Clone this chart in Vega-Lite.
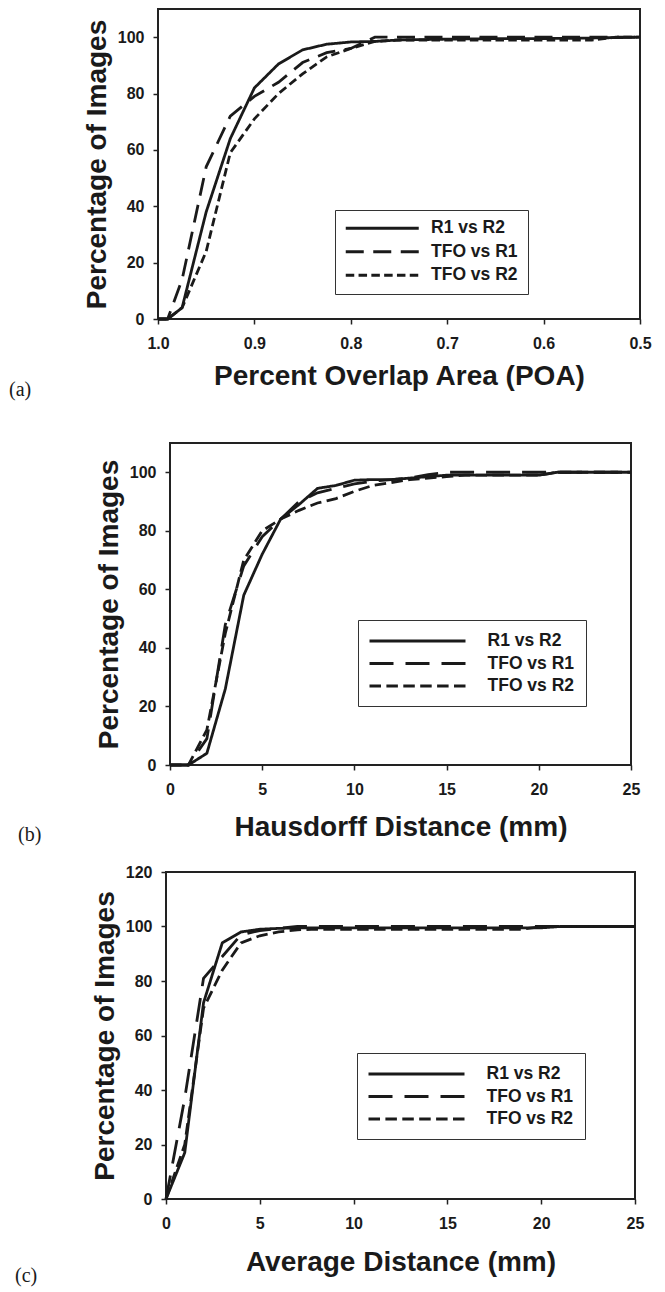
{
  "$schema": "https://vega.github.io/schema/vega-lite/v6.json",
  "background": "white",
  "padding": {"left": 0, "top": 8, "right": 0, "bottom": 0},
  "autosize": {"type": "pad"},
  "spacing": 17,
  "resolve": {"scale": {"strokeDash": "independent"}, "legend": {"strokeDash": "independent"}},
  "config": {
    "view": {"stroke": null},
    "font": "Liberation Sans",
    "axis": {
      "domain": false,
      "grid": false,
      "ticks": true,
      "tickSize": 5,
      "tickWidth": 1.5,
      "tickColor": "#222",
      "labelFont": "Liberation Sans",
      "labelFontWeight": "bold",
      "labelFontSize": 16,
      "labelColor": "#1a1a1a",
      "labelFlush": false,
      "labelOverlap": false,
      "titleFont": "Liberation Sans",
      "titleFontWeight": "bold",
      "titleFontSize": 28,
      "titleColor": "#1a1a1a"
    },
    "axisX": {"labelPadding": 11},
    "axisY": {"labelPadding": 9, "titlePadding": 6},
    "legend": {
      "orient": "none",
      "title": null,
      "symbolType": "M-6,0L6,0",
      "symbolStrokeWidth": 3,
      "symbolStrokeColor": "#1a1a1a",
      "labelFont": "Liberation Sans",
      "labelFontWeight": "bold",
      "labelFontSize": 17.5,
      "labelColor": "#1a1a1a",
      "strokeColor": "#333",
      "fillColor": "white",
      "rowPadding": 4.5
    }
  },
  "datasets": {
    "poa": [
      {"series": "R1 vs R2", "x": 1.0, "y": 0},
      {"series": "R1 vs R2", "x": 0.99, "y": 0},
      {"series": "R1 vs R2", "x": 0.975, "y": 4},
      {"series": "R1 vs R2", "x": 0.95, "y": 38},
      {"series": "R1 vs R2", "x": 0.925, "y": 64},
      {"series": "R1 vs R2", "x": 0.9, "y": 82},
      {"series": "R1 vs R2", "x": 0.875, "y": 90.5},
      {"series": "R1 vs R2", "x": 0.85, "y": 95.5},
      {"series": "R1 vs R2", "x": 0.825, "y": 97.5},
      {"series": "R1 vs R2", "x": 0.8, "y": 98.3},
      {"series": "R1 vs R2", "x": 0.775, "y": 98.5},
      {"series": "R1 vs R2", "x": 0.75, "y": 99},
      {"series": "R1 vs R2", "x": 0.7, "y": 99.3},
      {"series": "R1 vs R2", "x": 0.65, "y": 99.5},
      {"series": "R1 vs R2", "x": 0.6, "y": 99.5},
      {"series": "R1 vs R2", "x": 0.55, "y": 99.7},
      {"series": "R1 vs R2", "x": 0.5, "y": 100},
      {"series": "TFO vs R1", "x": 1.0, "y": 0},
      {"series": "TFO vs R1", "x": 0.99, "y": 0},
      {"series": "TFO vs R1", "x": 0.975, "y": 14},
      {"series": "TFO vs R1", "x": 0.95, "y": 54},
      {"series": "TFO vs R1", "x": 0.925, "y": 72},
      {"series": "TFO vs R1", "x": 0.9, "y": 79},
      {"series": "TFO vs R1", "x": 0.875, "y": 84},
      {"series": "TFO vs R1", "x": 0.85, "y": 91},
      {"series": "TFO vs R1", "x": 0.825, "y": 94.5},
      {"series": "TFO vs R1", "x": 0.8, "y": 96},
      {"series": "TFO vs R1", "x": 0.775, "y": 100},
      {"series": "TFO vs R1", "x": 0.75, "y": 100},
      {"series": "TFO vs R1", "x": 0.7, "y": 100},
      {"series": "TFO vs R1", "x": 0.65, "y": 100},
      {"series": "TFO vs R1", "x": 0.6, "y": 100},
      {"series": "TFO vs R1", "x": 0.55, "y": 100},
      {"series": "TFO vs R1", "x": 0.5, "y": 100},
      {"series": "TFO vs R2", "x": 1.0, "y": 0},
      {"series": "TFO vs R2", "x": 0.99, "y": 0},
      {"series": "TFO vs R2", "x": 0.975, "y": 4},
      {"series": "TFO vs R2", "x": 0.95, "y": 24},
      {"series": "TFO vs R2", "x": 0.925, "y": 59},
      {"series": "TFO vs R2", "x": 0.9, "y": 71},
      {"series": "TFO vs R2", "x": 0.875, "y": 80},
      {"series": "TFO vs R2", "x": 0.85, "y": 87},
      {"series": "TFO vs R2", "x": 0.825, "y": 93},
      {"series": "TFO vs R2", "x": 0.8, "y": 96},
      {"series": "TFO vs R2", "x": 0.775, "y": 98.5},
      {"series": "TFO vs R2", "x": 0.75, "y": 99},
      {"series": "TFO vs R2", "x": 0.7, "y": 99},
      {"series": "TFO vs R2", "x": 0.65, "y": 99},
      {"series": "TFO vs R2", "x": 0.6, "y": 99},
      {"series": "TFO vs R2", "x": 0.55, "y": 99},
      {"series": "TFO vs R2", "x": 0.525, "y": 100},
      {"series": "TFO vs R2", "x": 0.5, "y": 100}
    ],
    "hd": [
      {"series": "R1 vs R2", "x": 0, "y": 0},
      {"series": "R1 vs R2", "x": 1, "y": 0},
      {"series": "R1 vs R2", "x": 2, "y": 4},
      {"series": "R1 vs R2", "x": 3, "y": 26},
      {"series": "R1 vs R2", "x": 4, "y": 58},
      {"series": "R1 vs R2", "x": 5, "y": 72},
      {"series": "R1 vs R2", "x": 6, "y": 84},
      {"series": "R1 vs R2", "x": 7, "y": 89},
      {"series": "R1 vs R2", "x": 8, "y": 94.5},
      {"series": "R1 vs R2", "x": 9, "y": 95.5},
      {"series": "R1 vs R2", "x": 10, "y": 97.3},
      {"series": "R1 vs R2", "x": 11, "y": 97.5},
      {"series": "R1 vs R2", "x": 12, "y": 97.5},
      {"series": "R1 vs R2", "x": 13, "y": 98},
      {"series": "R1 vs R2", "x": 14, "y": 98.5},
      {"series": "R1 vs R2", "x": 15, "y": 99},
      {"series": "R1 vs R2", "x": 17, "y": 99},
      {"series": "R1 vs R2", "x": 20, "y": 99},
      {"series": "R1 vs R2", "x": 21, "y": 100},
      {"series": "R1 vs R2", "x": 25, "y": 100},
      {"series": "TFO vs R1", "x": 0, "y": 0},
      {"series": "TFO vs R1", "x": 1, "y": 0},
      {"series": "TFO vs R1", "x": 2, "y": 9},
      {"series": "TFO vs R1", "x": 3, "y": 48},
      {"series": "TFO vs R1", "x": 4, "y": 68},
      {"series": "TFO vs R1", "x": 5, "y": 78},
      {"series": "TFO vs R1", "x": 6, "y": 84},
      {"series": "TFO vs R1", "x": 7, "y": 90},
      {"series": "TFO vs R1", "x": 8, "y": 93},
      {"series": "TFO vs R1", "x": 9, "y": 94.5},
      {"series": "TFO vs R1", "x": 10, "y": 96},
      {"series": "TFO vs R1", "x": 11, "y": 97},
      {"series": "TFO vs R1", "x": 12, "y": 97.5},
      {"series": "TFO vs R1", "x": 13, "y": 98},
      {"series": "TFO vs R1", "x": 14, "y": 99.2},
      {"series": "TFO vs R1", "x": 15, "y": 100},
      {"series": "TFO vs R1", "x": 20, "y": 100},
      {"series": "TFO vs R1", "x": 25, "y": 100},
      {"series": "TFO vs R2", "x": 0, "y": 0},
      {"series": "TFO vs R2", "x": 1, "y": 0},
      {"series": "TFO vs R2", "x": 2, "y": 12},
      {"series": "TFO vs R2", "x": 3, "y": 45},
      {"series": "TFO vs R2", "x": 4, "y": 70},
      {"series": "TFO vs R2", "x": 5, "y": 80},
      {"series": "TFO vs R2", "x": 6, "y": 84},
      {"series": "TFO vs R2", "x": 7, "y": 87},
      {"series": "TFO vs R2", "x": 8, "y": 89.5},
      {"series": "TFO vs R2", "x": 9, "y": 91},
      {"series": "TFO vs R2", "x": 10, "y": 93.5},
      {"series": "TFO vs R2", "x": 11, "y": 95.5},
      {"series": "TFO vs R2", "x": 12, "y": 96.5},
      {"series": "TFO vs R2", "x": 13, "y": 97.5},
      {"series": "TFO vs R2", "x": 14, "y": 98},
      {"series": "TFO vs R2", "x": 15, "y": 98.5},
      {"series": "TFO vs R2", "x": 16, "y": 99},
      {"series": "TFO vs R2", "x": 20, "y": 99},
      {"series": "TFO vs R2", "x": 21, "y": 100},
      {"series": "TFO vs R2", "x": 25, "y": 100}
    ],
    "ad": [
      {"series": "R1 vs R2", "x": 0, "y": 0},
      {"series": "R1 vs R2", "x": 1, "y": 17},
      {"series": "R1 vs R2", "x": 2, "y": 72},
      {"series": "R1 vs R2", "x": 3, "y": 94},
      {"series": "R1 vs R2", "x": 4, "y": 98},
      {"series": "R1 vs R2", "x": 5, "y": 99},
      {"series": "R1 vs R2", "x": 6, "y": 99.3},
      {"series": "R1 vs R2", "x": 7, "y": 99.5},
      {"series": "R1 vs R2", "x": 20, "y": 99.5},
      {"series": "R1 vs R2", "x": 21, "y": 100},
      {"series": "R1 vs R2", "x": 25, "y": 100},
      {"series": "TFO vs R1", "x": 0, "y": 0},
      {"series": "TFO vs R1", "x": 1, "y": 37},
      {"series": "TFO vs R1", "x": 2, "y": 81},
      {"series": "TFO vs R1", "x": 3, "y": 89},
      {"series": "TFO vs R1", "x": 4, "y": 97},
      {"series": "TFO vs R1", "x": 5, "y": 98.5},
      {"series": "TFO vs R1", "x": 6, "y": 99.3},
      {"series": "TFO vs R1", "x": 7, "y": 100},
      {"series": "TFO vs R1", "x": 25, "y": 100},
      {"series": "TFO vs R2", "x": 0, "y": 0},
      {"series": "TFO vs R2", "x": 1, "y": 20},
      {"series": "TFO vs R2", "x": 2, "y": 70},
      {"series": "TFO vs R2", "x": 3, "y": 84},
      {"series": "TFO vs R2", "x": 4, "y": 94},
      {"series": "TFO vs R2", "x": 5, "y": 96.6},
      {"series": "TFO vs R2", "x": 6, "y": 98},
      {"series": "TFO vs R2", "x": 7, "y": 98.8},
      {"series": "TFO vs R2", "x": 8, "y": 99},
      {"series": "TFO vs R2", "x": 19, "y": 99},
      {"series": "TFO vs R2", "x": 20, "y": 100},
      {"series": "TFO vs R2", "x": 25, "y": 100}
    ]
  },
  "vconcat": [
    {
      "spacing": 0,
      "resolve": {"scale": {"strokeDash": "independent"}, "legend": {"strokeDash": "independent"}},
      "hconcat": [
        {"width": 8, "height": 416, "data": {"values": []}, "mark": {"type": "point", "opacity": 0}, "encoding": {}},
        {
          "width": 482, "height": 310,
          "data": {"name": "poa"},
          "view": {"stroke": "#222", "strokeWidth": 2},
          "title": {"text": "(a)", "orient": "bottom", "anchor": "start", "frame": "group", "dx": -149, "offset": 0, "baseline": "middle", "font": "Liberation Serif", "fontSize": 20, "fontWeight": "normal", "color": "#1a1a1a"},
          "mark": {"type": "line", "strokeWidth": 2.8, "color": "#1a1a1a"},
          "encoding": {
            "x": {"field": "x", "type": "quantitative", "scale": {"domain": [0.5, 1.0], "reverse": true, "nice": false, "zero": false}, "axis": {"values": [1.0, 0.9, 0.8, 0.7, 0.6, 0.5], "format": ".1f", "title": "Percent Overlap Area (POA)", "titlePadding": 11}},
            "y": {"field": "y", "type": "quantitative", "scale": {"domain": [0, 110], "nice": false}, "axis": {"values": [0, 20, 40, 60, 80, 100], "title": "Percentage of Images"}},
            "strokeDash": {"field": "series", "type": "nominal", "scale": {"domain": ["R1 vs R2", "TFO vs R1", "TFO vs R2"], "range": [[1, 0], [18, 9.5], [8.5, 4.3]]}, "legend": {"legendX": 177, "legendY": 201, "symbolSize": 148, "symbolOffset": 29, "labelOffset": 40, "padding": 9.5}}
          }
        }
      ]
    },
    {
      "spacing": 0,
      "resolve": {"scale": {"strokeDash": "independent"}, "legend": {"strokeDash": "independent"}},
      "hconcat": [
        {"width": 17, "height": 1, "data": {"values": []}, "mark": {"type": "point", "opacity": 0}, "encoding": {}},
        {
          "width": 461, "height": 322,
          "data": {"name": "hd"},
          "view": {"stroke": "#222", "strokeWidth": 2},
          "title": {"text": "(b)", "orient": "bottom", "anchor": "start", "frame": "group", "dx": -152, "offset": 0, "baseline": "alphabetic", "font": "Liberation Serif", "fontSize": 20, "fontWeight": "normal", "color": "#1a1a1a"},
          "mark": {"type": "line", "strokeWidth": 2.8, "color": "#1a1a1a"},
          "encoding": {
            "x": {"field": "x", "type": "quantitative", "scale": {"domain": [0, 25], "nice": false}, "axis": {"values": [0, 5, 10, 15, 20, 25], "title": "Hausdorff Distance (mm)", "titlePadding": 16}},
            "y": {"field": "y", "type": "quantitative", "scale": {"domain": [0, 110], "nice": false}, "axis": {"values": [0, 20, 40, 60, 80, 100], "title": "Percentage of Images"}},
            "strokeDash": {"field": "series", "type": "nominal", "scale": {"domain": ["R1 vs R2", "TFO vs R1", "TFO vs R2"], "range": [[1, 0], [24, 12], [11.5, 5.4]]}, "legend": {"legendX": 188, "legendY": 177, "symbolSize": 256, "symbolOffset": 38.5, "labelOffset": 60.5, "padding": 11.5}}
          }
        }
      ]
    },
    {
      "spacing": 0,
      "resolve": {"scale": {"strokeDash": "independent"}, "legend": {"strokeDash": "independent"}},
      "hconcat": [
        {"width": 14, "height": 1, "data": {"values": []}, "mark": {"type": "point", "opacity": 0}, "encoding": {}},
        {
          "width": 469, "height": 327,
          "data": {"name": "ad"},
          "view": {"stroke": "#222", "strokeWidth": 2},
          "title": {"text": "(c)", "orient": "bottom", "anchor": "start", "frame": "group", "dx": -151, "offset": 0, "baseline": "middle", "font": "Liberation Serif", "fontSize": 20, "fontWeight": "normal", "color": "#1a1a1a"},
          "mark": {"type": "line", "strokeWidth": 2.8, "color": "#1a1a1a"},
          "encoding": {
            "x": {"field": "x", "type": "quantitative", "scale": {"domain": [0, 25], "nice": false}, "axis": {"values": [0, 5, 10, 15, 20, 25], "title": "Average Distance (mm)", "titlePadding": 17}},
            "y": {"field": "y", "type": "quantitative", "scale": {"domain": [0, 120], "nice": false}, "axis": {"values": [0, 20, 40, 60, 80, 100, 120], "title": "Percentage of Images"}},
            "strokeDash": {"field": "series", "type": "nominal", "scale": {"domain": ["R1 vs R2", "TFO vs R1", "TFO vs R2"], "range": [[1, 0], [24, 12], [11.5, 5.4]]}, "legend": {"legendX": 191, "legendY": 181, "symbolSize": 256, "symbolOffset": 38.5, "labelOffset": 60.5, "padding": 11.5}}
          }
        }
      ]
    }
  ]
}
